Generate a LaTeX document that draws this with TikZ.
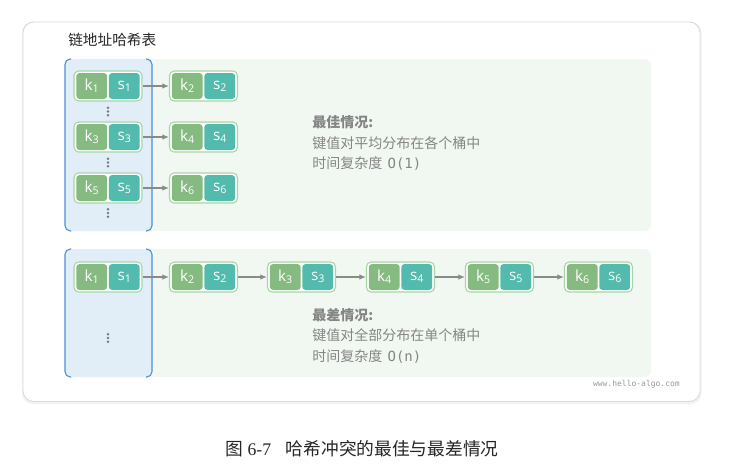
\documentclass[tikz,border=0pt]{standalone}
\usepackage{fontspec}
\setmainfont{Liberation Serif}
\newfontfamily\cjk{Noto Sans CJK SC}
\newfontfamily\cellfont{Open Sans}
\newfontfamily\monofont{DejaVu Sans Mono}
\usetikzlibrary{arrows.meta}
\definecolor{kgreen}{HTML}{85BA80}
\definecolor{steal}{HTML}{52BBAD}
\definecolor{boxedge}{HTML}{A8D5A5}
\definecolor{bluefill}{HTML}{E1EEF8}
\definecolor{blueedge}{HTML}{4A90D6}
\definecolor{greenfill}{HTML}{F1F8F1}
\definecolor{txtgray}{HTML}{858585}
\definecolor{arrowgray}{HTML}{8A8A8A}
\definecolor{dotgray}{HTML}{787878}
\newcommand{\kvnode}[4]{%
  \node[outerbox] (#1) at (#2,#3) {};
  \node[kcell, anchor=east] (#1k) at ([xshift=-0.4pt]#1.center) {k\raisebox{-0.25ex}{\fontsize{8}{9}\selectfont #4}};
  \node[scell, anchor=west] (#1s) at ([xshift=0.4pt]#1.center) {s\raisebox{-0.25ex}{\fontsize{8}{9}\selectfont #4}};
}
\newcommand{\vdotsat}[2]{%
  \fill[dotgray] (#1,#2-3.8) circle (1.35);
  \fill[dotgray] (#1,#2) circle (1.35);
  \fill[dotgray] (#1,#2+3.8) circle (1.35);
}
\begin{document}
\begin{tikzpicture}[x=0.75pt,y=-0.75pt,
  outerbox/.style={draw=boxedge, fill=white, line width=0.8pt, rounded corners=3.5pt,
    minimum width=51pt, minimum height=22.5pt, inner sep=0pt},
  kcell/.style={fill=kgreen, rounded corners=2.5pt, minimum width=23.2pt, minimum height=19.5pt,
    inner sep=0pt, text=white, font=\cellfont\fontsize{11.5}{12}\selectfont},
  scell/.style={kcell, fill=steal},
  arr/.style={draw=arrowgray, line width=0.9pt, -{Latex[length=5pt,width=4.2pt]}},
  desc/.style={anchor=west, inner sep=0pt, text=txtgray, font=\cjk\fontsize{10.5}{12}\selectfont},
]
\useasboundingbox (0,0) rectangle (731,472);
\fill[white] (0,0) rectangle (731,472);
% card with shadow
\fill[black!10, rounded corners=8pt] (23,23.5) rectangle (700.5,403);
\fill[black!5, rounded corners=8pt] (22,22) rectangle (701.5,404);
\draw[black!14, fill=white, line width=0.7pt, rounded corners=8pt] (23,22) rectangle (700,401.5);
\node[anchor=west, inner sep=0pt, text=black!85, font=\cjk\fontsize{11}{12}\selectfont] (title) at (68,40) {链地址哈希表};

% top panels
\fill[greenfill, rounded corners=5pt] (65,59) rectangle (651,231);
\fill[bluefill, rounded corners=4pt] (65,59) rectangle (152,231);
\draw[blueedge, line width=0.8pt, rounded corners=4pt] (71,59) -- (65,59) -- (65,231) -- (71,231);
\draw[blueedge, line width=0.8pt, rounded corners=4pt] (146,59) -- (152,59) -- (152,231) -- (146,231);

% bottom panels
\fill[greenfill, rounded corners=5pt] (65,249) rectangle (651,377);
\fill[bluefill, rounded corners=4pt] (65,249) rectangle (152,377);
\draw[blueedge, line width=0.8pt, rounded corners=4pt] (71,249) -- (65,249) -- (65,377) -- (71,377);
\draw[blueedge, line width=0.8pt, rounded corners=4pt] (146,249) -- (152,249) -- (152,377) -- (146,377);

% top nodes
\kvnode{a1}{108}{86}{1}
\kvnode{a2}{203.5}{86}{2}
\kvnode{a3}{108}{137}{3}
\kvnode{a4}{203.5}{137}{4}
\kvnode{a5}{108}{188}{5}
\kvnode{a6}{203.5}{188}{6}
\draw[arr] (a1.east) -- (a2.west);
\draw[arr] (a3.east) -- (a4.west);
\draw[arr] (a5.east) -- (a6.west);
\vdotsat{108}{111.5}
\vdotsat{108}{162.5}
\vdotsat{108}{213}

\node[desc, font=\cjk\bfseries\fontsize{10.5}{12}\selectfont] (b1) at (312,122) {最佳情况:};
\node[desc] (b2) at (312,143) {键值对平均分布在各个桶中};
\node[desc] (b3) at (312,164) {时间复杂度\hspace{4pt}{\monofont O(1)}};

% bottom nodes
\kvnode{c1}{108}{277}{1}
\kvnode{c2}{203.5}{277}{2}
\kvnode{c3}{301.5}{277}{3}
\kvnode{c4}{400.5}{277}{4}
\kvnode{c5}{499.5}{277}{5}
\kvnode{c6}{598.5}{277}{6}
\draw[arr] (c1.east) -- (c2.west);
\draw[arr] (c2.east) -- (c3.west);
\draw[arr] (c3.east) -- (c4.west);
\draw[arr] (c4.east) -- (c5.west);
\draw[arr] (c5.east) -- (c6.west);
\vdotsat{108}{338}

\node[desc, font=\cjk\bfseries\fontsize{10.5}{12}\selectfont] (w1) at (312,315) {最差情况:};
\node[desc] (w2) at (312,335) {键值对全部分布在单个桶中};
\node[desc] (w3) at (312,356) {时间复杂度\hspace{4pt}{\monofont O(n)}};

\node[anchor=east, inner sep=0pt, text=black!40, font=\monofont\fontsize{6}{7}\selectfont] (wm) at (680,384) {www.hello-algo.com};

\node[inner sep=0pt, text=black!85, font=\fontsize{13.3}{15}\selectfont] (cap) at (362,449) {{\cjk 图} 6-7\hspace{11pt}{\cjk 哈希冲突的最佳与最差情况}};
\end{tikzpicture}
\end{document}
